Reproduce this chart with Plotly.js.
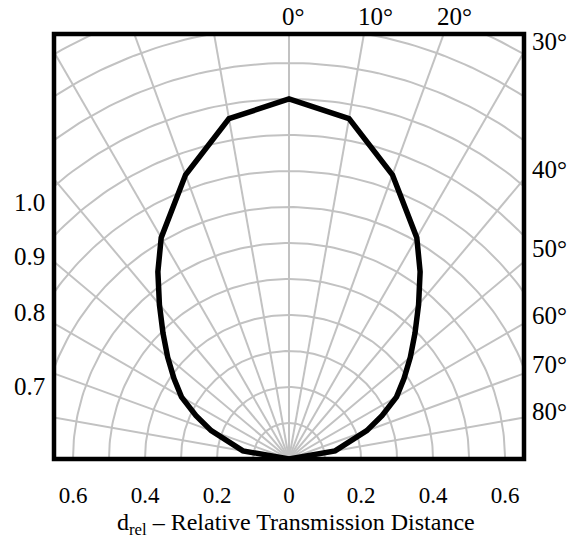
<!DOCTYPE html>
<html>
<head>
<meta charset="utf-8">
<script src="https://cdn.plot.ly/plotly-3.0.1.min.js"></script>
<style>html,body{margin:0;padding:0;background:#fff;}</style>
</head>
<body>
<div id="chart" style="width:578px;height:542px;"></div>
<script>
// ---- data (angle in degrees from the optical axis, relative transmission distance) ----
const anglesDeg = [-90,-80,-70,-65,-60,-55,-50,-45,-40,-35,-30,-20,-10,0,10,20,30,35,40,45,50,55,60,65,70,80,90];
const dRel      = [0,0.13,0.23,0.285,0.345,0.39,0.44,0.495,0.56,0.635,0.71,0.84,0.96,1.0,0.96,0.84,0.71,0.635,0.56,0.495,0.44,0.39,0.345,0.285,0.23,0.13,0];

const xTickVals = [-0.6,-0.4,-0.2,0,0.2,0.4,0.6];
const xTickText = ['0.6','0.4','0.2','0','0.2','0.4','0.6'];
const topAngleLabels   = ['0°','10°','20°'];
const rightAngleLabels = ['30°','40°','50°','60°','70°','80°'];
const leftLabels       = ['1.0','0.9','0.8','0.7'];
const gridRadii  = [0.1,0.2,0.3,0.4,0.5,0.6,0.7,0.8,0.9,1.0,1.1,1.2,1.3];
const gridAngles = [-90,-80,-70,-60,-50,-40,-30,-20,-10,0,10,20,30,40,50,60,70,80,90];
const xTitle = 'd<sub>rel</sub> – Relative Transmission Distance';

// ---- geometry helpers ----
const rad = a => a * Math.PI / 180;
const W = 578, H = 542, ML = 54, MR = 54, MT = 34, MB = 83;
const PW = W - ML - MR, PH = H - MT - MB;
const unit = 360; // pixels per 1.0
const xr = (PW / 2) / unit, yr = PH / unit;
const px2x = p => (p - ML) / PW;
const py2y = p => (H - MB - p) / PH;

// grid circles
const gcx = [], gcy = [];
gridRadii.forEach(r => {
  for (let t = -90; t <= 90; t += 1) { gcx.push(r * Math.sin(rad(t))); gcy.push(r * Math.cos(rad(t))); }
  gcx.push(null); gcy.push(null);
});
// grid radials
const grx = [], gry = [];
gridAngles.forEach(a => {
  grx.push(0, 1.6 * Math.sin(rad(a)), null);
  gry.push(0, 1.6 * Math.cos(rad(a)), null);
});

const cx = anglesDeg.map((a, i) => dRel[i] * Math.sin(rad(a)));
const cy = anglesDeg.map((a, i) => dRel[i] * Math.cos(rad(a)));

const gridStyle = {color: '#c2c2c2', width: 2};
const traces = [
  {x: gcx, y: gcy, mode: 'lines', line: gridStyle, hoverinfo: 'skip', showlegend: false},
  {x: grx, y: gry, mode: 'lines', line: gridStyle, hoverinfo: 'skip', showlegend: false},
  {x: cx, y: cy, mode: 'lines', line: {color: '#000', width: 5.5}, showlegend: false}
];

const font = "'Liberation Serif', 'Times New Roman', Times, serif";
const ann = [];
const topX = [282, 358, 437];
topAngleLabels.forEach((t, i) => ann.push({text: t, xref: 'paper', yref: 'paper', x: px2x(topX[i] - 2), y: py2y(16), xanchor: 'left', yanchor: 'middle', showarrow: false, font: {family: font, size: 25}}));
const rightY = [42, 169, 248.5, 315, 364, 411];
rightAngleLabels.forEach((t, i) => ann.push({text: t, xref: 'paper', yref: 'paper', x: px2x(530), y: py2y(rightY[i]), xanchor: 'left', yanchor: 'middle', showarrow: false, font: {family: font, size: 25}}));
const leftY = [202, 256, 312.5, 386.5];
leftLabels.forEach((t, i) => ann.push({text: t, xref: 'paper', yref: 'paper', x: px2x(47), y: py2y(leftY[i]), xanchor: 'right', yanchor: 'middle', showarrow: false, font: {family: font, size: 25}}));
ann.push({text: xTitle, xref: 'paper', yref: 'paper', x: px2x(296), y: py2y(524), xanchor: 'center', yanchor: 'middle', showarrow: false, font: {family: font, size: 24}});

const layout = {
  width: W, height: H,
  margin: {l: ML, r: MR, t: MT, b: MB, pad: 0},
  paper_bgcolor: '#fff', plot_bgcolor: '#fff',
  font: {family: font, color: '#000', size: 23},
  showlegend: false,
  xaxis: {range: [-xr, xr], tickvals: xTickVals, ticktext: xTickText, ticks: '', showgrid: false, zeroline: false, showline: false, fixedrange: true, ticklabelstandoff: 20, tickfont: {family: font, size: 23}},
  yaxis: {range: [0, yr], showticklabels: false, ticks: '', showgrid: false, zeroline: false, showline: false, fixedrange: true},
  shapes: [{type: 'rect', xref: 'paper', yref: 'paper', x0: 0, x1: 1, y0: 0, y1: 1, line: {color: '#000', width: 4.5}, layer: 'above'}],
  annotations: ann
};

Plotly.newPlot('chart', traces, layout, {staticPlot: true, displayModeBar: false});
</script>
</body>
</html>
